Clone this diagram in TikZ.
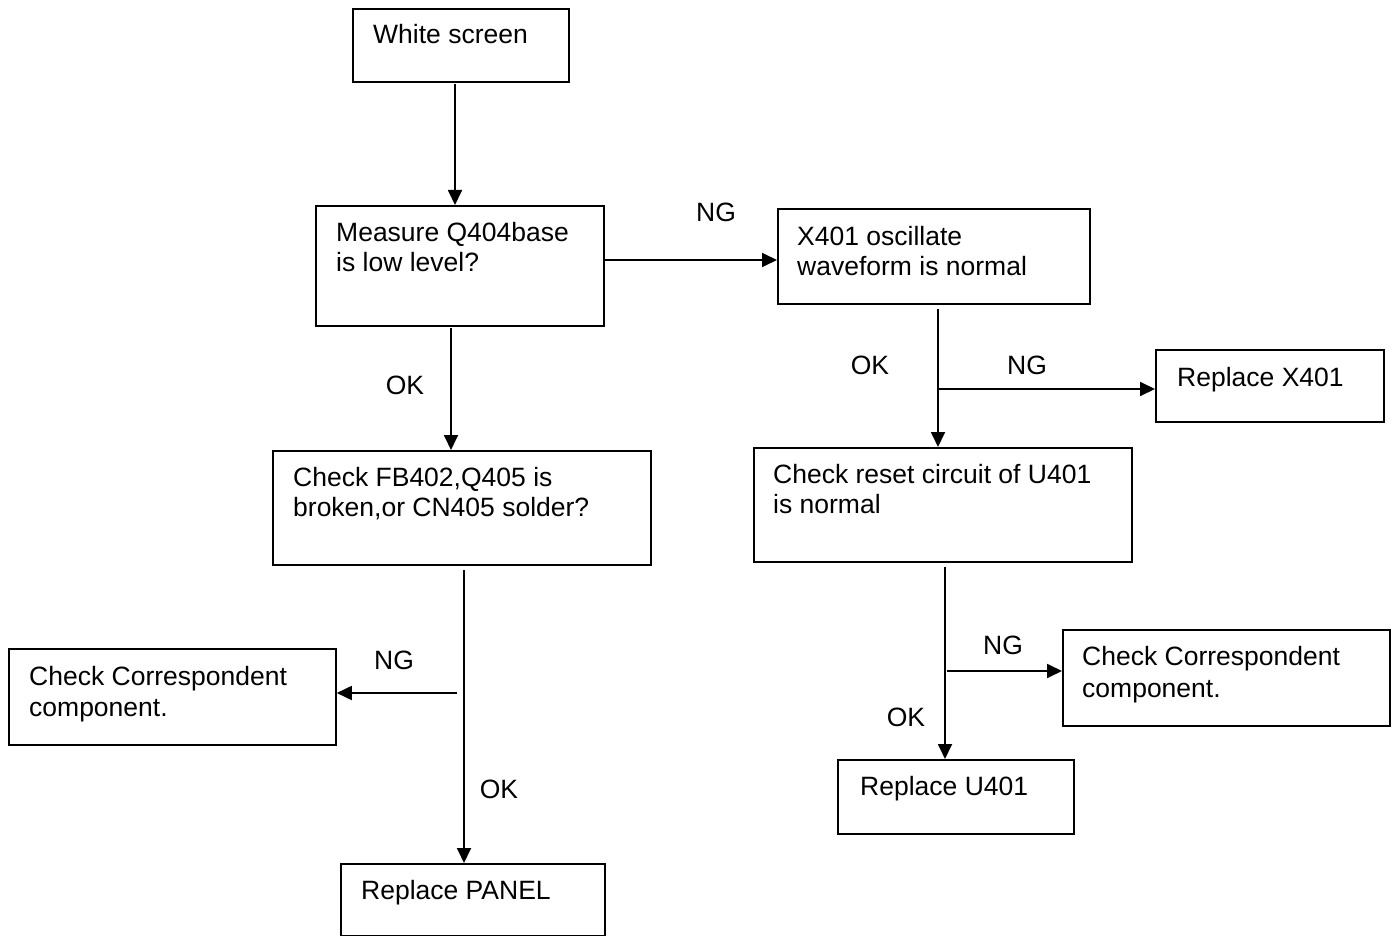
\documentclass[tikz,border=0pt]{standalone}
\usepackage{fontspec}
\setmainfont{Liberation Sans}
\usetikzlibrary{arrows.meta}
\begin{document}
\begin{tikzpicture}[x=1pt,y=-1pt,
  box/.style={draw=black, line width=1.8pt, anchor=north west, inner sep=0pt},
  txt/.style={inner sep=0pt, anchor=base west, font=\fontsize{26.5}{31}\selectfont},
  lbl/.style={inner sep=0pt, font=\fontsize{26.5}{31}\selectfont},
  arr/.style={line width=1.8pt, -{Triangle[length=15pt,width=14pt]}},
  ln/.style={line width=1.8pt}]
\useasboundingbox (0,0) rectangle (1395,936);
% boxes
\node[box, minimum width=216pt, minimum height=73pt] (b1) at (352,8) {};
\node[box, minimum width=288pt, minimum height=120pt] (b2) at (315,205) {};
\node[box, minimum width=312pt, minimum height=95pt] (b3) at (777,208) {};
\node[box, minimum width=378pt, minimum height=114pt] (b4) at (272,450) {};
\node[box, minimum width=228pt, minimum height=72pt] (bx) at (1155,349) {};
\node[box, minimum width=378pt, minimum height=114pt] (b5) at (753,447) {};
\node[box, minimum width=327pt, minimum height=96pt] (bcl) at (8,648) {};
\node[box, minimum width=264pt, minimum height=72pt] (bp) at (340,863) {};
\node[box, minimum width=327pt, minimum height=96pt] (bcr) at (1062,629) {};
\node[box, minimum width=236pt, minimum height=74pt] (bu) at (837,759) {};
% texts
\node[txt] (t1) at (373,44) {White screen};
\node[txt] (t2a) at (336,241) {Measure Q404base};
\node[txt] (t2b) at (336,272) {is low level?};
\node[txt] (t3a) at (797,245) {X401 oscillate};
\node[txt] (t3b) at (797,276) {waveform is normal};
\node[txt] (t4a) at (293,486) {Check FB402,Q405 is};
\node[txt] (t4b) at (293,516) {broken,or CN405 solder?};
\node[txt] (tx) at (1177,386) {Replace X401};
\node[txt] (t5a) at (773,483) {Check reset circuit of U401};
\node[txt] (t5b) at (773,513) {is normal};
\node[txt] (tcla) at (29,685) {Check Correspondent};
\node[txt] (tclb) at (29,716) {component.};
\node[txt] (tp) at (361,899) {Replace PANEL};
\node[txt] (tcra) at (1082,665) {Check Correspondent};
\node[txt] (tcrb) at (1082,697) {component.};
\node[txt] (tu) at (860,795) {Replace U401};
% labels
\node[lbl] (ng1) at (716,212) {NG};
\node[lbl] (ok1) at (405,385) {OK};
\node[lbl] (ok2) at (870,365) {OK};
\node[lbl] (ng2) at (1027,365) {NG};
\node[lbl] (ng3) at (394,660) {NG};
\node[lbl] (ok3) at (499,789) {OK};
\node[lbl] (ng4) at (1003,645) {NG};
\node[lbl] (ok4) at (906,717) {OK};
% connector coordinates
\coordinate (s1) at (455,84);
\coordinate (s2) at (451,328);
\coordinate (s3) at (938,309);
\coordinate (j3) at (938,389);
\coordinate (s4) at (464,570);
\coordinate (j4) at (457,693);
\coordinate (s5) at (945,567);
\coordinate (j5) at (947,671);
% connectors
\draw[arr] (s1) -- (s1 |- b2.north);
\draw[arr] (b2.east |- 0,260) -- (b3.west |- 0,260);
\draw[arr] (s2) -- (s2 |- b4.north);
\draw[arr] (s3) -- (s3 |- b5.north);
\draw[arr] (j3) -- (j3 -| bx.west);
\draw[arr] (s4) -- (s4 |- bp.north);
\draw[arr] (j4) -- (j4 -| bcl.east);
\draw[arr] (s5) -- (s5 |- bu.north);
\draw[arr] (j5) -- (j5 -| bcr.west);
\end{tikzpicture}
\end{document}
